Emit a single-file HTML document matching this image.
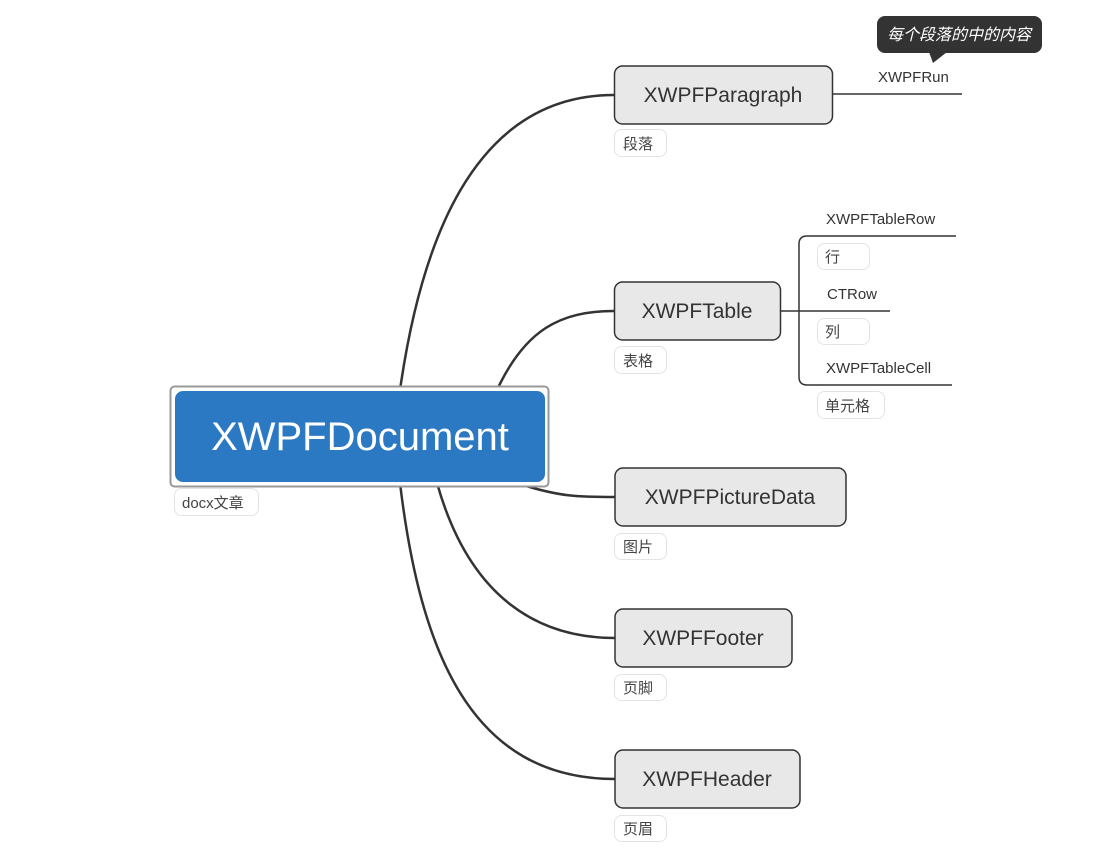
<!DOCTYPE html>
<html><head><meta charset="utf-8"><style>
body{margin:0;background:#fff}
svg{display:block}
text{font-family:"Liberation Sans","Noto Sans CJK SC",sans-serif}
</style></head><body>
<svg width="1115" height="852" viewBox="0 0 1115 852">
<g fill="none" stroke="#333" stroke-width="2.5">
<path d="M400,390 C420,250 470,95 614,95"/>
<path d="M497,390 C525,330 560,311 614,311"/>
<path d="M520,484 C560,497 580,497 615,497"/>
<path d="M437,483 C470,600 540,638 615,638"/>
<path d="M400,483 C420,650 470,779 615,779"/>
</g>
<g fill="none" stroke="#333" stroke-width="1.5">
<path d="M832,94 H962"/>
<path d="M780,311 H890"/>
<path d="M956,236 H807 Q799,236 799,244 V377 Q799,385 807,385 H952"/>
</g>
<rect x="170.5" y="386.5" width="378" height="100" rx="4" fill="#fff" stroke="#999" stroke-width="2"/>
<rect x="175" y="391" width="370" height="91" rx="8" fill="#2b79c2"/>
<text x="360" y="450" font-size="40" fill="#fff" text-anchor="middle">XWPFDocument</text>
<rect x="174.5" y="488.5" width="84" height="27" rx="7" fill="#fff" stroke="#e3e3e3"/>
<text x="182" y="508" font-size="15" fill="#444">docx文章</text>
<g fill="#e8e8e8" stroke="#333" stroke-width="1.5">
<rect x="614.5" y="66" width="218" height="58" rx="8"/>
<rect x="614.5" y="282" width="166" height="58" rx="8"/>
<rect x="615" y="468" width="231" height="58" rx="8"/>
<rect x="615" y="609" width="177" height="58" rx="8"/>
<rect x="615" y="750" width="185" height="58" rx="8"/>
</g>
<g font-size="21" fill="#333" text-anchor="middle">
<text x="723" y="102">XWPFParagraph</text>
<text x="697" y="318">XWPFTable</text>
<text x="730" y="504">XWPFPictureData</text>
<text x="703" y="645">XWPFFooter</text>
<text x="707" y="786">XWPFHeader</text>
</g>
<g fill="#fff" stroke="#e3e3e3">
<rect x="614.5" y="129.5" width="52" height="27" rx="7"/>
<rect x="614.5" y="346.5" width="52" height="27" rx="7"/>
<rect x="614.5" y="533.5" width="52" height="26" rx="7"/>
<rect x="614.5" y="674.5" width="52" height="26" rx="7"/>
<rect x="614.5" y="815.5" width="52" height="26" rx="7"/>
<rect x="817.5" y="243.5" width="52" height="26" rx="7"/>
<rect x="817.5" y="318.5" width="52" height="26" rx="7"/>
<rect x="817.5" y="391.5" width="67" height="27" rx="7"/>
</g>
<g font-size="15" fill="#444">
<text x="623" y="149">段落</text>
<text x="623" y="366">表格</text>
<text x="623" y="552">图片</text>
<text x="623" y="693">页脚</text>
<text x="623" y="834">页眉</text>
<text x="825" y="262">行</text>
<text x="825" y="337">列</text>
<text x="825" y="411">单元格</text>
</g>
<g font-size="15" fill="#333">
<text x="878" y="82">XWPFRun</text>
<text x="826" y="224">XWPFTableRow</text>
<text x="827" y="299">CTRow</text>
<text x="826" y="373">XWPFTableCell</text>
</g>
<rect x="877" y="16" width="165" height="37" rx="8" fill="#333"/>
<path d="M929,52 L933,63 L947,52 Z" fill="#333"/>
<text x="959" y="40" font-size="16" fill="#fff" font-style="italic" text-anchor="middle">每个段落的中的内容</text>
</svg>
</body></html>
